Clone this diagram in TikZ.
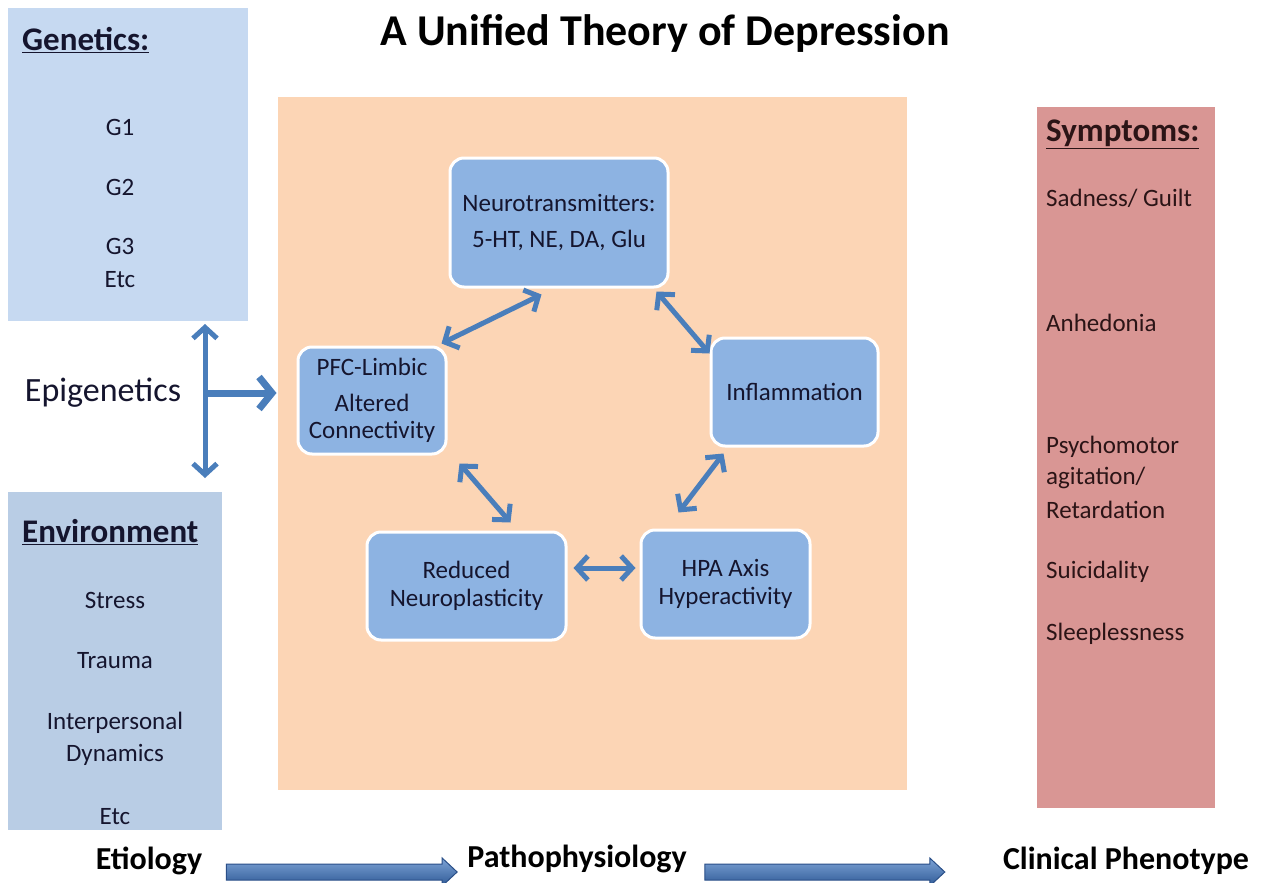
\documentclass[tikz,border=0pt]{standalone}
\usepackage{fontspec}
\setmainfont{Carlito}
\usetikzlibrary{arrows.meta,calc}
\definecolor{genblue}{HTML}{C6D9F1}
\definecolor{envblue}{HTML}{B9CDE5}
\definecolor{peach}{HTML}{FCD5B5}
\definecolor{rose}{HTML}{D99694}
\definecolor{nodeblue}{HTML}{8DB3E2}
\definecolor{arrowblue}{HTML}{4A7EBB}
\definecolor{ink}{HTML}{15152E}
\definecolor{symink}{HTML}{2B1416}
\definecolor{blocktop}{HTML}{7DA3D6}
\definecolor{blockbot}{HTML}{2F5A96}
\definecolor{blockline}{HTML}{2A4F88}
\tikzset{
  panel/.style={rectangle, inner sep=0pt, outer sep=0pt},
  procbox/.style={rectangle, rounded corners=14pt, fill=nodeblue, draw=white, line width=3pt,
    text=ink, align=center, font=\fontsize{25}{30}\selectfont, inner sep=4pt},
  item/.style={text=ink, font=\fontsize{25}{29}\selectfont, inner sep=0pt, align=center},
  symitem/.style={text=symink, font=\fontsize{25}{29}\selectfont, inner sep=0pt, anchor=west},
  header/.style={font=\bfseries\fontsize{33}{37}\selectfont, inner sep=0pt, anchor=west},
  stage/.style={text=black, font=\bfseries\fontsize{32}{36}\selectfont, inner sep=0pt},
  dbl/.style={draw=arrowblue, line width=5pt, {Straight Barb[length=11pt,width=24pt]}-{Straight Barb[length=11pt,width=24pt]}},
  sgl/.style={draw=arrowblue, line width=7pt, -{Straight Barb[length=13pt,width=32pt]}},
  blockarrow/.style={top color=blocktop, bottom color=blockbot, draw=blockline, line width=1pt}
}
\begin{document}
\begin{tikzpicture}[x=1pt,y=-1pt]
\useasboundingbox (0,0) rectangle (1267,883);
\fill[white] (0,0) rectangle (1267,883);

% title
\node[font=\bfseries\fontsize{44}{48}\selectfont, inner sep=0pt] (title) at (665,33) {A Unified Theory of Depression};

% panels
\node[panel, fill=genblue, minimum width=240pt, minimum height=313pt] (gen) at (128,164.5) {};
\node[panel, fill=envblue, minimum width=214pt, minimum height=338pt] (env) at (115,661) {};
\node[panel, fill=peach, minimum width=629pt, minimum height=693pt] (path) at (592.5,443.5) {};
\node[panel, fill=rose, minimum width=178pt, minimum height=701pt] (sym) at (1126,457.5) {};

% genetics
\node[header, text=ink] (genh) at (22,40) {\underline{Genetics:}};
\node[item] (g1) at (120,127) {G1};
\node[item] (g2) at (120,187) {G2};
\node[item] (g3) at (120,246) {G3};
\node[item] (getc) at (120,280) {Etc};

% environment
\node[header, text=ink] (envh) at (22,532) {\underline{Environment}};
\node[item] (e1) at (115,600) {Stress};
\node[item] (e2) at (115,661) {Trauma};
\node[item] (e3) at (115,723) {Interpersonal};
\node[item] (e4) at (115,755) {Dynamics};
\node[item] (e5) at (115,817) {Etc};

% symptoms
\node[header, text=symink] (symh) at (1046,134) {\underline{Symptoms:}};
\node[symitem] (s1) at (1046,198) {Sadness/ Guilt};
\node[symitem] (s2) at (1046,323) {Anhedonia};
\node[symitem] (s3) at (1046,447) {Psychomotor};
\node[symitem] (s4) at (1046,478) {agitation/};
\node[symitem] (s5) at (1046,510) {Retardation};
\node[symitem] (s6) at (1046,572) {Suicidality};
\node[symitem] (s7) at (1046,634) {Sleeplessness};

% epigenetics
\node[text=ink, font=\fontsize{34}{38}\selectfont, inner sep=0pt] (epi) at (103,393) {Epigenetics};

% process boxes
\node[procbox, minimum width=218pt, minimum height=129pt] (nt) at (559,222.5) {Neurotransmitters:\\[6pt]5-HT, NE, DA, Glu};
\node[procbox, minimum width=148pt, minimum height=107pt] (pfc) at (372,400.5) {PFC-Limbic\\[6pt]Altered\\[-3pt]Connectivity};
\node[procbox, minimum width=167pt, minimum height=108pt] (inf) at (794.5,392) {Inflammation};
\node[procbox, minimum width=199pt, minimum height=108pt] (red) at (466.5,586) {Reduced\\[-2pt]Neuroplasticity};
\node[procbox, minimum width=169pt, minimum height=108pt] (hpa) at (725.5,584) {HPA Axis\\[-2pt]Hyperactivity};

% cycle arrows
\draw[dbl] ($(pfc.north east)+(-6,-2)$) -- ($(nt.south west)+(93,6)$);
\draw[dbl] ($(nt.south east)+(-13,3)$) -- ($(inf.north west)+(0,17)$);
\draw[dbl] ($(inf.south west)+(14,6)$) -- ($(hpa.north west)+(39,-16)$);
\draw[dbl] ($(red.east)+(6,-18)$) -- ($(hpa.west)+(-4,-16)$);
\draw[dbl] ($(pfc.south east)+(12,8)$) -- ($(red.north)+(44,-8)$);

% epigenetics arrows
\draw[dbl] ($(gen.south east)+(-43,3)$) -- ($(env.north east)+(-17,-14)$);
\coordinate (vmid) at (206,393);
\draw[sgl] (vmid) -- ($(pfc.west)+(-20,-7.5)$);

% stages
\node[stage] (etio) at (149,861) {Etiology};
\node[stage] (patho) at (577,859) {Pathophysiology};
\node[stage] (clin) at (1126,861) {Clinical Phenotype};

% block arrows
\coordinate (b1s) at ($(etio.east)+(24,11)$);
\coordinate (b1e) at ($(patho.west)+(-10,13)$);
\path[blockarrow] ($(b1s)+(0,-8)$) -- ($(b1e)+(-15,-8)$) -- ($(b1e)+(-15,-14)$) -- (b1e)
  -- ($(b1e)+(-15,14)$) -- ($(b1e)+(-15,8)$) -- ($(b1s)+(0,8)$) -- cycle;
\coordinate (b2s) at ($(patho.east)+(18,13)$);
\coordinate (b2e) at ($(clin.west)+(-58,11)$);
\path[blockarrow] ($(b2s)+(0,-8)$) -- ($(b2e)+(-15,-8)$) -- ($(b2e)+(-15,-14)$) -- (b2e)
  -- ($(b2e)+(-15,14)$) -- ($(b2e)+(-15,8)$) -- ($(b2s)+(0,8)$) -- cycle;
\end{tikzpicture}
\end{document}
